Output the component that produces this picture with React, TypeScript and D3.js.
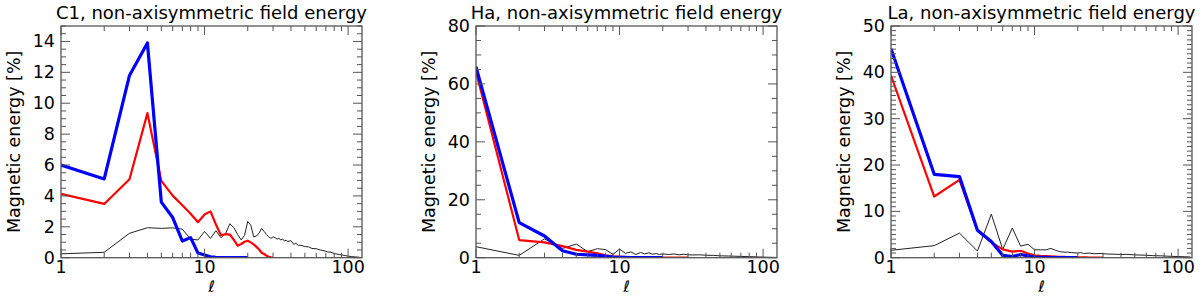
import * as d3 from 'd3';

// spherical harmonic degree values
const ell20 = d3.range(1, 21);
const ell30 = d3.range(1, 31);

// C1 panel
const c1Blue = [6.0, 5.1, 11.8, 13.9, 3.6, 2.6, 1.08, 1.3, 0.3, 0.18, 0.06, 0.02, 0, 0, 0, 0, 0, 0, 0, 0];
const c1Red = [4.13, 3.48, 5.08, 9.36, 4.97, 4.02, 3.4, 2.85, 2.3, 2.8, 3.0, 2.15, 1.47, 1.52, 1.5, 1.15, 0.78, 0.89, 1.03, 1.1,
  0.99, 0.86, 0.7, 0.53, 0.32, 0.24, 0.13, 0.06, 0.02, 0];
const c1BlackL = [1, 2, 3, 4, 5, 6, 7, 8, 9, 10, 11, 12, 13, 14, 15, 16, 17, 18, 19, 20, 21, 22, 23, 24, 25, 26, 27, 28, 29, 30,
  31, 32, 33, 34, 35, 36, 37, 38, 40, 42, 43, 45, 47, 50, 53, 56, 60, 64, 68, 72, 76, 80, 85, 90, 95, 100, 106, 112, 120];
const c1Black = [0.25, 0.35, 1.58, 1.94, 1.9, 1.93, 1.85, 1.2, 1.15, 1.7, 1.25, 1.75, 1.3, 1.55, 2.2, 1.95, 1.5, 1.15, 1.45, 2.35,
  2.1, 1.35, 1.4, 1.6, 1.9, 1.7, 1.5, 1.35, 1.25, 1.35, 1.3, 1.2, 1.25, 1.15, 1.2, 1.1, 1.12, 1.05, 1.1, 0.85, 0.95, 0.8, 0.8,
  0.72, 0.7, 0.6, 0.58, 0.5, 0.45, 0.38, 0.35, 0.27, 0.22, 0.18, 0.14, 0.1, 0.07, 0.05, 0.03];

// Ha panel
const haBlue = [65.9, 12.1, 7.5, 2.4, 1.2, 1.0, 0.8, 0.5, 0.25, 0.15, 0.1, 0.05, 0.02, 0, 0, 0, 0, 0, 0, 0];
const haRed = [64.2, 6.1, 5.3, 4.0, 2.7, 2.1, 1.5, 0.8, 0.5, 0.35, 0.25, 0.2, 0.15, 0.1, 0.1, 0.08, 0.05, 0.05, 0.03, 0.03,
  0.02, 0.02, 0.01, 0.01, 0, 0, 0, 0, 0, 0];
const haBlackL = [1, 2, 3, 4, 5, 6, 7, 8, 9, 10, 11, 12, 13, 14, 15, 16, 17, 18, 19, 20, 22, 24, 26, 28, 30, 33, 36, 40, 45,
  50, 60, 70, 80, 95, 110, 122];
const haBlack = [3.8, 0.8, 6.5, 3.2, 4.7, 2.1, 3.1, 2.8, 1.1, 3.0, 1.5, 2.0, 1.1, 1.8, 1.3, 1.7, 1.2, 1.4, 1.1, 1.3, 1.1, 1.3,
  1.0, 1.2, 1.0, 0.95, 1.0, 0.85, 0.8, 0.65, 0.55, 0.45, 0.35, 0.25, 0.15, 0.1];

// La panel
const laBlue = [45.1, 18.0, 17.5, 5.9, 3.5, 0.5, 0.25, 0.7, 0.4, 0.15, 0.1, 0.05, 0.02, 0, 0, 0, 0, 0, 0, 0];
const laRed = [39.3, 13.2, 16.8, 5.9, 3.3, 1.8, 1.3, 1.5, 0.9, 0.5, 0.4, 0.35, 0.3, 0.25, 0.2, 0.2, 0.15, 0.12, 0.1, 0.1,
  0.08, 0.06, 0.05, 0.04, 0.03, 0.02, 0.02, 0.01, 0.01, 0];
const laBlackL = [1, 2, 3, 4, 5, 6, 7, 8, 9, 10, 11, 12, 13, 14, 15, 16, 17, 18, 20, 21, 22, 24, 26, 29, 32, 36, 40, 44, 50,
  58, 66, 76, 88, 100, 112, 122];
const laBlack = [1.6, 2.6, 5.3, 1.45, 9.4, 1.8, 6.4, 2.5, 2.9, 1.7, 1.7, 1.7, 2.0, 1.6, 1.3, 1.2, 1.2, 1.1, 1.0, 1.1, 0.9, 1.0,
  0.85, 0.9, 0.8, 0.75, 0.7, 0.72, 0.6, 0.55, 0.45, 0.4, 0.3, 0.25, 0.2, 0.15];

const xTicks = [1, 10, 100];
const xMinor = [2, 3, 4, 5, 6, 7, 8, 9, 20, 30, 40, 50, 60, 70, 80, 90];

const panels = [
  { title: 'C1, non-axisymmetric field energy', left: 61, ymax: 15, major: 2, minor: 0.5,
    blue: c1Blue, red: c1Red, blackL: c1BlackL, black: c1Black },
  { title: 'Ha, non-axisymmetric field energy', left: 476, ymax: 80, major: 20, minor: 5,
    blue: haBlue, red: haRed, blackL: haBlackL, black: haBlack },
  { title: 'La, non-axisymmetric field energy', left: 891, ymax: 50, major: 10, minor: 1,
    blue: laBlue, red: laRed, blackL: laBlackL, black: laBlack },
];

const W = 301;
const TOP = 26;
const BOTTOM = 257.7;
const FONT = '"DejaVu Sans", sans-serif';
const FS = 17.5;
const frame = '#555';

function Panel({ p }: { p: any }) {
  const x = d3.scaleLog().domain([1, 125]).range([p.left, p.left + W]);
  const y = d3.scaleLinear().domain([0, p.ymax]).range([BOTTOM, TOP]);
  const line = (ls: number[], vs: number[]) =>
    d3.line<number>().x((_, i) => x(ls[i])).y((v) => y(v))(vs) || '';
  const yMajor = d3.range(0, p.ymax + 1e-9, p.major);
  const yMinor = d3.range(0, p.ymax + 1e-9, p.minor).filter((v) => Math.abs(v / p.major - Math.round(v / p.major)) > 1e-6);
  const right = p.left + W;
  const cx = p.left + W / 2;
  return (
    <g>
      <defs>
        <clipPath id={'clip' + p.left}>
          <rect x={p.left} y={TOP} width={W} height={BOTTOM - TOP} />
        </clipPath>
      </defs>
      <g clipPath={`url(#clip${p.left})`} fill="none" strokeLinejoin="round">
        <path d={line(p.blackL, p.black)} stroke="#222" strokeWidth={1} />
        <path d={line(ell30, p.red)} stroke="#ff0000" strokeWidth={2.2} />
        <path d={line(ell20, p.blue)} stroke="#0000ff" strokeWidth={3.2} />
      </g>
      <rect x={p.left} y={TOP} width={W} height={BOTTOM - TOP} fill="none" stroke={frame} strokeWidth={1.3} />
      {yMajor.map((v) => (
        <g key={'ym' + v}>
          <line x1={p.left} x2={p.left + 9} y1={y(v)} y2={y(v)} stroke={frame} />
          <line x1={right} x2={right - 9} y1={y(v)} y2={y(v)} stroke={frame} />
          <text x={p.left - 6} y={y(v)} textAnchor="end" dominantBaseline="central" fontFamily={FONT} fontSize={FS}>
            {v}
          </text>
        </g>
      ))}
      {yMinor.map((v) => (
        <g key={'yn' + v}>
          <line x1={p.left} x2={p.left + 5} y1={y(v)} y2={y(v)} stroke={frame} />
          <line x1={right} x2={right - 5} y1={y(v)} y2={y(v)} stroke={frame} />
        </g>
      ))}
      {xTicks.map((t) => (
        <g key={'xm' + t}>
          <line x1={x(t)} x2={x(t)} y1={BOTTOM} y2={BOTTOM - 9} stroke={frame} />
          <line x1={x(t)} x2={x(t)} y1={TOP} y2={TOP + 9} stroke={frame} />
          <text x={x(t)} y={273} textAnchor="middle" fontFamily={FONT} fontSize={FS}>
            {t}
          </text>
        </g>
      ))}
      {xMinor.map((t) => (
        <g key={'xn' + t}>
          <line x1={x(t)} x2={x(t)} y1={BOTTOM} y2={BOTTOM - 5} stroke={frame} />
          <line x1={x(t)} x2={x(t)} y1={TOP} y2={TOP + 5} stroke={frame} />
        </g>
      ))}
      <text x={cx} y={19} textAnchor="middle" fontFamily={FONT} fontSize={18}>
        {p.title}
      </text>
      <text x={cx} y={292} textAnchor="middle" fontFamily={FONT} fontSize={16} fontStyle="italic">
        ℓ
      </text>
      <text
        transform={`translate(${p.left - 47},${(TOP + BOTTOM) / 2}) rotate(-90)`}
        textAnchor="middle"
        dominantBaseline="central"
        fontFamily={FONT}
        fontSize={FS}
      >
        Magnetic energy [%]
      </text>
    </g>
  );
}

export default function App() {
  return (
    <svg width={1200} height={296} style={{ position: 'absolute', left: 0, top: 0, background: '#fff' }}>
      {panels.map((p) => (
        <Panel key={p.left} p={p} />
      ))}
    </svg>
  );
}
